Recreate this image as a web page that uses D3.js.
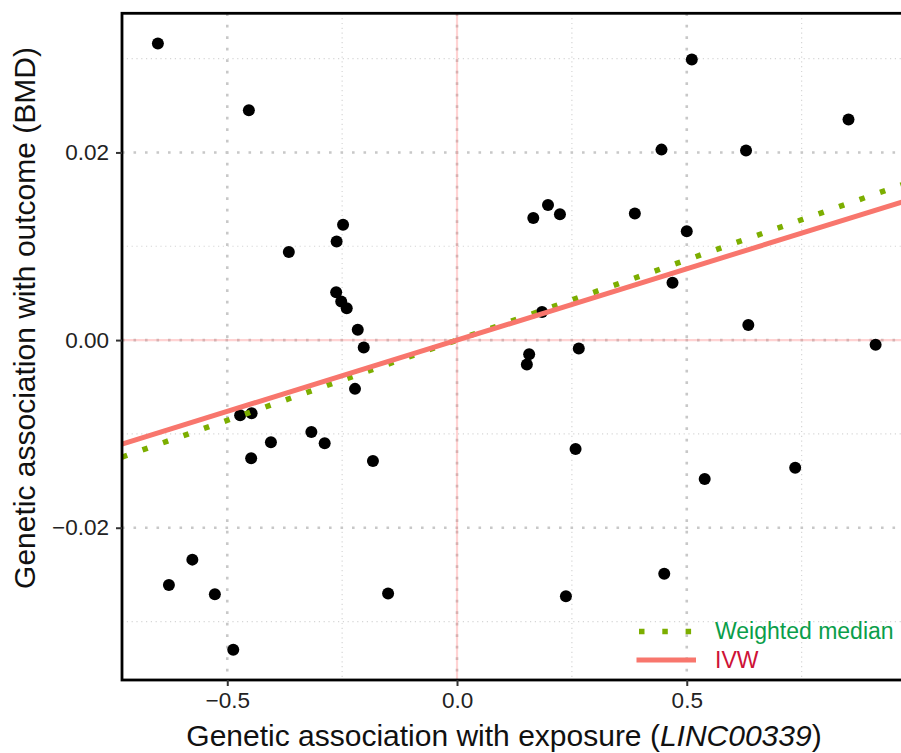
<!DOCTYPE html>
<html>
<head>
<meta charset="utf-8">
<title>MR scatter</title>
<script src="https://cdn.jsdelivr.net/npm/d3@7"></script>
<style>
body { margin: 0; background: #fff; }
text { font-family: "Liberation Sans", Arial, sans-serif; }
</style>
</head>
<body>
<div id="chart"></div>
<script>
// SNP effects: exposure (LINC00339) vs outcome (BMD)
var bx = [-0.651, -0.453, -0.366, -0.248, -0.262, -0.263, -0.252, -0.240, -0.216, -0.203,
          -0.222, -0.472, -0.447, -0.405, -0.317, -0.288, -0.448, -0.183, -0.627, -0.576,
          -0.527, -0.487, -0.150,
           0.166,  0.198,  0.224,  0.387,  0.445,  0.511,  0.500,  0.629,  0.852,  0.185,
           0.157,  0.152,  0.265,  0.258,  0.469,  0.634,  0.911,  0.736,  0.539,  0.451,
           0.237];
var by = [ 0.0316,  0.0245,  0.0094,  0.0123,  0.0105,  0.0051,  0.0041,  0.0034,  0.0011, -0.0008,
          -0.0052, -0.0080, -0.0078, -0.0109, -0.0098, -0.0110, -0.0126, -0.0129, -0.0261, -0.0234,
          -0.0271, -0.0330, -0.0270,
           0.0130,  0.0144,  0.0134,  0.0135,  0.0203,  0.0299,  0.0116,  0.0202,  0.0235,  0.0030,
          -0.0015, -0.0026, -0.0009, -0.0116,  0.0061,  0.0016, -0.0005, -0.0136, -0.0148, -0.0249,
          -0.0273];
// method slopes (lines through origin)
var methods = ["Weighted median", "IVW"];
var slopes  = [0.0171, 0.0152];
var xTicks = [-0.5, 0.0, 0.5];
var yTicks = [-0.02, 0.00, 0.02];

var W = 901, H = 753;
var margin = {top: 13.3, left: 122, right: -10.5, bottom: 73};
var pw = W - margin.left - margin.right, ph = H - margin.top - margin.bottom;

var svg = d3.select("#chart").append("svg")
    .attr("width", W).attr("height", H);

// ggplot-style 5% expansion
function expand(ext) { var r = ext[1] - ext[0]; return [ext[0] - r * 0.05, ext[1] + r * 0.05]; }
var x = d3.scaleLinear().domain(expand(d3.extent(bx))).range([0, pw]);
var y = d3.scaleLinear().domain(expand(d3.extent(by))).range([ph, 0]);

var g = svg.append("g").attr("transform", "translate(" + margin.left + "," + margin.top + ")");

g.append("clipPath").attr("id", "clip").append("rect").attr("width", pw).attr("height", ph);
var panel = g.append("g").attr("clip-path", "url(#clip)");

// minor grid
var xMinor = [-0.75, -0.25, 0.25, 0.75], yMinor = [-0.03, -0.01, 0.01, 0.03];
panel.selectAll(".vmin").data(xMinor).enter().append("line")
    .attr("x1", x).attr("x2", x).attr("y1", 0).attr("y2", ph)
    .attr("stroke", "#d6d6d6").attr("stroke-width", 1.2).attr("stroke-dasharray", "1.2,3.6");
panel.selectAll(".hmin").data(yMinor).enter().append("line")
    .attr("y1", y).attr("y2", y).attr("x1", 0).attr("x2", pw)
    .attr("stroke", "#d6d6d6").attr("stroke-width", 1.2).attr("stroke-dasharray", "1.2,3.6");
// major grid
panel.selectAll(".vmaj").data(xTicks).enter().append("line")
    .attr("x1", x).attr("x2", x).attr("y1", 0).attr("y2", ph)
    .attr("stroke", "#c8c8c8").attr("stroke-width", 2.6).attr("stroke-dasharray", "2.6,8.9");
panel.selectAll(".hmaj").data(yTicks).enter().append("line")
    .attr("y1", y).attr("y2", y).attr("x1", 0).attr("x2", pw)
    .attr("stroke", "#c8c8c8").attr("stroke-width", 2.6).attr("stroke-dasharray", "2.6,8.9");

// zero lines
panel.append("line").attr("x1", x(0)).attr("x2", x(0)).attr("y1", 0).attr("y2", ph)
    .attr("stroke", "#ff8080").attr("stroke-opacity", 0.35).attr("stroke-width", 2.2);
panel.append("line").attr("y1", y(0)).attr("y2", y(0)).attr("x1", 0).attr("x2", pw)
    .attr("stroke", "#ff8080").attr("stroke-opacity", 0.35).attr("stroke-width", 2.2);

// points
panel.selectAll("circle").data(bx).enter().append("circle")
    .attr("cx", function(d) { return x(d); })
    .attr("cy", function(d, i) { return y(by[i]); })
    .attr("r", 6).attr("fill", "#000");

// method lines
var x0 = x.domain()[0], x1 = x.domain()[1];
var lineCol = ["#7CAE00", "#F8766D"], textCol = ["#0A9E4A", "#CE1236"];
var dash = ["5.5,16.2", null], lw = [5.5, 5];
methods.forEach(function(m, i) {
  panel.append("line")
    .attr("x1", x(x0)).attr("y1", y(slopes[i] * x0))
    .attr("x2", x(x1)).attr("y2", y(slopes[i] * x1))
    .attr("stroke", lineCol[i]).attr("stroke-width", lw[i])
    .attr("stroke-dasharray", dash[i]);
});

// border
g.append("rect").attr("width", pw).attr("height", ph)
    .attr("fill", "none").attr("stroke", "#000").attr("stroke-width", 2.8);

// axes
var xAxis = g.append("g").attr("transform", "translate(0," + ph + ")")
    .call(d3.axisBottom(x).tickValues(xTicks).tickFormat(d3.format(".1f")).tickSize(6).tickPadding(6));
var yAxis = g.append("g")
    .call(d3.axisLeft(y).tickValues(yTicks).tickFormat(d3.format(".2f")).tickSize(6).tickPadding(7));
[xAxis, yAxis].forEach(function(a) {
  a.select(".domain").remove();
  a.selectAll(".tick line").attr("stroke", "#333").attr("stroke-width", 2);
  a.selectAll(".tick text").attr("font-size", 22.5).attr("fill", "#222")
    .style("font-family", "'Liberation Sans', Arial, sans-serif");
});

// legend
var leg = svg.append("g");
var legY = [631.5, 660];
methods.forEach(function(m, i) {
  leg.append("line").attr("x1", 636.5).attr("x2", 696).attr("y1", legY[i]).attr("y2", legY[i])
    .attr("stroke", lineCol[i]).attr("stroke-width", lw[i])
    .attr("stroke-dasharray", i === 0 ? "5.5,17.8" : null)
    .attr("stroke-dashoffset", i === 0 ? -2.5 : 0);
  leg.append("text").attr("x", 715).attr("y", legY[i] + 7.5)
    .attr("font-size", 23).attr("fill", textCol[i]).text(m);
});

// axis titles
var xt = svg.append("text").attr("x", 504).attr("y", 746)
    .attr("text-anchor", "middle").attr("font-size", 30).attr("fill", "#111");
xt.append("tspan").text("Genetic association with exposure (");
xt.append("tspan").attr("font-style", "italic").text("LINC00339");
xt.append("tspan").text(")");

svg.append("text").attr("transform", "translate(35,318) rotate(-90)")
    .attr("text-anchor", "middle").attr("font-size", 30).attr("fill", "#111")
    .text("Genetic association with outcome (BMD)");
</script>
</body>
</html>
